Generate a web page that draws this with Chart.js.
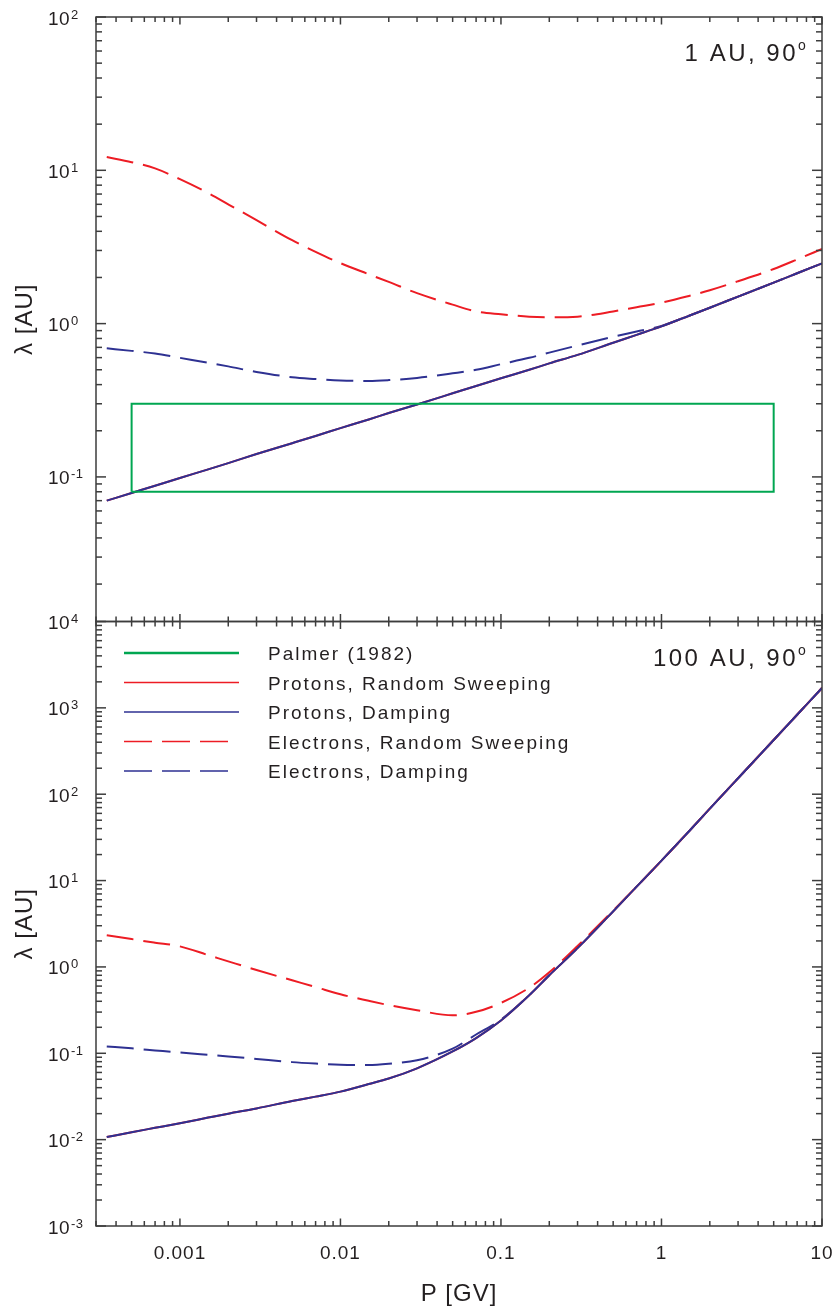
<!DOCTYPE html>
<html>
<head>
<meta charset="utf-8">
<title>Mean free path vs rigidity</title>
<script src="https://cdn.jsdelivr.net/npm/chart.js@4.4.1/dist/chart.umd.min.js"></script>
<style>
  html, body { margin: 0; padding: 0; background: #fff; }
  canvas { display: block; }
</style>
</head>
<body>
<canvas id="lambdaChart" width="834" height="1306"></canvas>
<script>
// rigidity grid [GV], shared by every curve
const rigidity = [0.00035, 0.0005, 0.0007, 0.001, 0.0015, 0.002, 0.003, 0.005, 0.007, 0.01,
  0.015, 0.02, 0.03, 0.05, 0.07, 0.1, 0.15, 0.2, 0.3, 0.5,
  0.7, 1, 1.5, 2, 3, 5, 7, 10];

// 1 AU, 90 deg
const protonsSweep1AU = [0.070, 0.0786, 0.0876, 0.0984, 0.112, 0.123, 0.141, 0.166, 0.185, 0.208,
  0.237, 0.261, 0.297, 0.351, 0.392, 0.44, 0.50, 0.55, 0.625, 0.75,
  0.845, 0.96, 1.13, 1.27, 1.50, 1.85, 2.13, 2.47];
const protonsDamp1AU = [0.070, 0.0786, 0.0876, 0.0984, 0.112, 0.123, 0.141, 0.166, 0.185, 0.208,
  0.237, 0.261, 0.297, 0.351, 0.392, 0.44, 0.50, 0.55, 0.625, 0.75,
  0.845, 0.96, 1.13, 1.27, 1.50, 1.85, 2.13, 2.47];
const electronsSweep1AU = [12.2, 11.3, 10.3, 8.75, 7.1, 6.0, 4.73, 3.5, 2.94, 2.48,
  2.1, 1.87, 1.58, 1.33, 1.2, 1.15, 1.11, 1.10, 1.11, 1.20,
  1.28, 1.37, 1.52, 1.65, 1.89, 2.27, 2.62, 3.07];
const electronsDamp1AU = [0.69, 0.664, 0.638, 0.598, 0.556, 0.526, 0.484, 0.447, 0.435, 0.425,
  0.423, 0.428, 0.442, 0.474, 0.50, 0.544, 0.598, 0.647, 0.72, 0.82,
  0.887, 0.965, 1.13, 1.27, 1.50, 1.85, 2.13, 2.47];

// 100 AU, 90 deg
const protonsSweep100AU = [0.0107, 0.0122, 0.0137, 0.0155, 0.018, 0.020, 0.023, 0.028, 0.0315, 0.036,
  0.044, 0.051, 0.067, 0.105, 0.15, 0.24, 0.47, 0.80, 1.65, 4.4,
  8.5, 17, 38, 68, 153, 425, 833, 1700];
const protonsDamp100AU = [0.0107, 0.0122, 0.0137, 0.0155, 0.018, 0.020, 0.023, 0.028, 0.0315, 0.036,
  0.044, 0.051, 0.067, 0.105, 0.15, 0.24, 0.47, 0.80, 1.65, 4.4,
  8.5, 17, 38, 68, 153, 425, 833, 1700];
const electronsSweep100AU = [2.33, 2.10, 1.91, 1.73, 1.37, 1.16, 0.92, 0.70, 0.585, 0.482,
  0.405, 0.361, 0.315, 0.275, 0.302, 0.383, 0.574, 0.867, 1.75, 4.5,
  8.5, 17, 38, 68, 153, 425, 833, 1700];
const electronsDamp100AU = [0.12, 0.114, 0.108, 0.102, 0.096, 0.092, 0.086, 0.079, 0.076, 0.0736,
  0.073, 0.0755, 0.083, 0.113, 0.165, 0.245, 0.47, 0.80, 1.65, 4.4,
  8.5, 17, 38, 68, 153, 425, 833, 1700];

// Palmer (1982) consensus range, drawn as a closed box
const palmerP = [0.0005, 0.0005, 5, 5, 0.0005];
const palmerLambda = [0.08, 0.3, 0.3, 0.08, 0.08];

const xTickValues = [0.001, 0.01, 0.1, 1, 10];
const xTickLabels = ['0.001', '0.01', '0.1', '1', '10'];
const panelLabels = ['1 AU, 90', '100 AU, 90'];

const FONT = '"Liberation Sans", Arial, Helvetica, sans-serif';
const RED = '#ed1c24', BLUE = '#2e3192', GREEN = '#00a651';
const INK = '#231f20', FRAME = '#3d3d3d';
const DASH = [27, 10];

function points(xs, ys) {
  return xs.map((x, i) => ({ x: x, y: ys[i] }));
}

function curve(label, ys, axis, color, dashed, order) {
  return {
    label: label,
    data: points(rigidity, ys),
    yAxisID: axis,
    borderColor: color,
    borderWidth: 2,
    borderDash: dashed ? DASH : [],
    pointRadius: 0,
    cubicInterpolationMode: 'monotone',
    fill: false,
    order: order
  };
}

const datasets = [
  {
    label: 'Palmer (1982)', data: points(palmerP, palmerLambda), yAxisID: 'yTop',
    borderColor: GREEN, borderWidth: 2, borderJoinStyle: 'miter',
    pointRadius: 0, tension: 0, fill: false, order: 0
  },
  curve('Protons, Random Sweeping', protonsSweep1AU, 'yTop', RED, false, 2),
  curve('Protons, Damping', protonsDamp1AU, 'yTop', BLUE, false, 1),
  curve('Electrons, Random Sweeping', electronsSweep1AU, 'yTop', RED, true, 4),
  curve('Electrons, Damping', electronsDamp1AU, 'yTop', BLUE, true, 3),
  curve('Protons, Random Sweeping', protonsSweep100AU, 'yBot', RED, false, 2),
  curve('Protons, Damping', protonsDamp100AU, 'yBot', BLUE, false, 1),
  curve('Electrons, Random Sweeping', electronsSweep100AU, 'yBot', RED, true, 4),
  curve('Electrons, Damping', electronsDamp100AU, 'yBot', BLUE, true, 3)
];

// 1..9 x 10^n between min and max
function logTicks(min, max) {
  const out = [];
  for (let e = Math.floor(Math.log10(min)); e <= Math.ceil(Math.log10(max)); e++) {
    for (let m = 1; m <= 9; m++) {
      const v = m * Math.pow(10, e);
      if (v >= min * 0.9999 && v <= max * 1.0001) out.push({ v: v, major: m === 1 });
    }
  }
  return out;
}

function seg(ctx, x1, y1, x2, y2) {
  ctx.beginPath();
  ctx.moveTo(x1, y1);
  ctx.lineTo(x2, y2);
  ctx.stroke();
}

function drawPanel(ctx, x, y, label) {
  ctx.strokeStyle = FRAME;
  ctx.lineWidth = 1.5;
  ctx.setLineDash([]);
  ctx.strokeRect(x.left, y.top, x.right - x.left, y.bottom - y.top);

  logTicks(y.min, y.max).forEach(t => {
    const py = y.getPixelForValue(t.v);
    const len = t.major ? 10 : 6;
    seg(ctx, x.left, py, x.left + len, py);
    seg(ctx, x.right, py, x.right - len, py);
  });
  logTicks(x.min, x.max).forEach(t => {
    const px = x.getPixelForValue(t.v);
    const len = t.major ? 7.5 : 5;
    seg(ctx, px, y.top, px, y.top + len);
    seg(ctx, px, y.bottom, px, y.bottom - len);
  });

  // decade labels, 10 with a raised exponent
  ctx.fillStyle = INK;
  ctx.textAlign = 'left';
  ctx.textBaseline = 'alphabetic';
  const e0 = Math.ceil(Math.log10(y.min) - 1e-9);
  const e1 = Math.floor(Math.log10(y.max) + 1e-9);
  for (let e = e0; e <= e1; e++) {
    const py = y.getPixelForValue(Math.pow(10, e));
    ctx.letterSpacing = '0.5px';
    ctx.font = '19px ' + FONT;
    ctx.fillText('10', 48, py + 7.5);
    ctx.font = '13px ' + FONT;
    ctx.fillText(String(e), 71, py + 1.5);
  }

  // panel caption, top right
  ctx.letterSpacing = '2.5px';
  ctx.font = '24px ' + FONT;
  ctx.textAlign = 'right';
  ctx.fillText(label, 798, y.top + 44);
  ctx.letterSpacing = '0px';
  ctx.font = '14px ' + FONT;
  ctx.textAlign = 'left';
  ctx.fillText('o', 798, y.top + 33);
}

function drawLegend(ctx, chart, top) {
  const seen = new Set();
  let row = 0;
  ctx.font = '19px ' + FONT;
  ctx.letterSpacing = '2px';
  ctx.textAlign = 'left';
  ctx.textBaseline = 'alphabetic';
  chart.data.datasets.forEach(ds => {
    if (seen.has(ds.label)) return;
    seen.add(ds.label);
    const y = top + 31.5 + row * 29.5;
    const dashed = ds.borderDash && ds.borderDash.length > 0;
    ctx.strokeStyle = ds.borderColor;
    ctx.lineWidth = ds.label === 'Palmer (1982)' ? 2.5 : 1.3;
    ctx.setLineDash(dashed ? [28, 10] : []);
    seg(ctx, 124, y, dashed ? 228 : 239, y);
    ctx.fillStyle = INK;
    ctx.fillText(ds.label, 268, y + 7);
    row++;
  });
  ctx.setLineDash([]);
}

const panelDecor = {
  id: 'panelDecor',
  beforeDraw(chart) {
    chart.ctx.letterSpacing = '1px';
  },
  afterDraw(chart) {
    const ctx = chart.ctx;
    const x = chart.scales.x;
    ctx.save();
    drawPanel(ctx, x, chart.scales.yTop, panelLabels[0]);
    drawPanel(ctx, x, chart.scales.yBot, panelLabels[1]);
    drawLegend(ctx, chart, chart.scales.yBot.top);
    ctx.restore();
  }
};

function yAxis(min, max) {
  return {
    type: 'logarithmic',
    position: 'left',
    stack: 'panels',
    stackWeight: 1,
    min: min,
    max: max,
    grid: { display: false, drawTicks: false },
    border: { display: false },
    ticks: { display: false },
    title: {
      display: true, text: 'λ [AU]', color: INK,
      font: { family: FONT, size: 24, lineHeight: 1 },
      padding: { top: 13, bottom: 0 }
    },
    afterFit: scale => { scale.width = 96; }
  };
}

new Chart(document.getElementById('lambdaChart'), {
  type: 'line',
  data: { datasets: datasets },
  options: {
    responsive: false,
    animation: false,
    layout: { padding: { top: 17, right: 12, left: 0, bottom: 0 } },
    plugins: { legend: { display: false }, tooltip: { enabled: false } },
    scales: {
      x: {
        type: 'logarithmic',
        position: 'bottom',
        min: 0.000347,
        max: 10,
        grid: { display: false, drawTicks: false },
        border: { display: false },
        afterBuildTicks: scale => { scale.ticks = xTickValues.map(v => ({ value: v })); },
        ticks: {
          autoSkip: false, maxRotation: 0, padding: 18, color: INK,
          font: { family: FONT, size: 19, lineHeight: 1 },
          callback: (value, index) => xTickLabels[index]
        },
        title: {
          display: true, text: 'P [GV]', color: INK,
          font: { family: FONT, size: 24, lineHeight: 1 },
          padding: { top: 0, bottom: 0 }
        },
        // fixed height; the "10" label may overhang the frame on the right
        afterFit: scale => {
          scale.height = 80;
          scale.paddingLeft = 0;
          scale.paddingRight = 0;
        }
      },
      // stacked left axes: the one listed last is placed on top
      yBot: yAxis(0.001, 10000),
      yTop: yAxis(0.0114, 100)
    }
  },
  plugins: [panelDecor]
});
</script>
</body>
</html>
